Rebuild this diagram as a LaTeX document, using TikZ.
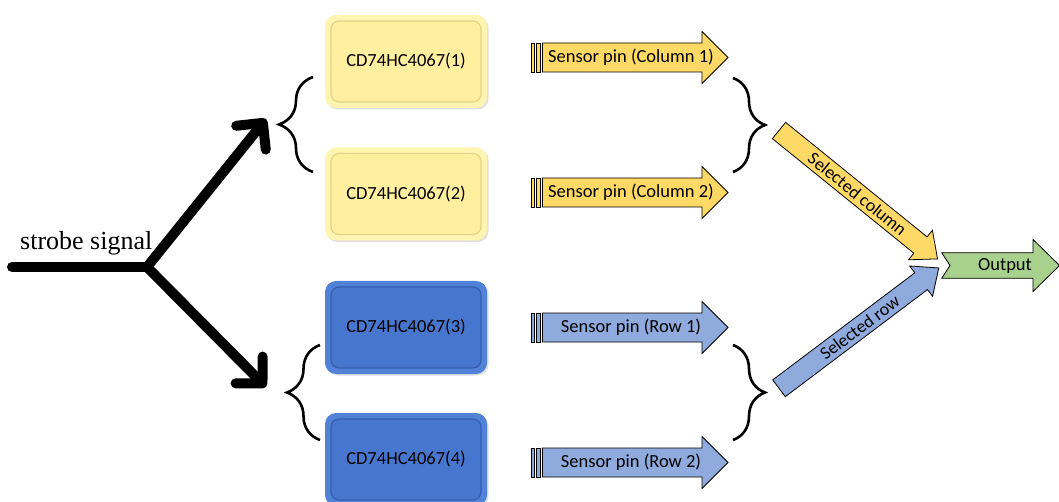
\documentclass[tikz,border=0pt]{standalone}
\usepackage{fontspec}
\setmainfont{Carlito}
\newfontfamily\timesfont{Liberation Serif}
\usetikzlibrary{arrows.meta,decorations.pathreplacing,shadows}

\definecolor{boxyellow}{HTML}{FFF4B0}
\definecolor{boxyellowin}{HTML}{FFEF9E}
\definecolor{boxyellowedge}{HTML}{E2D389}
\definecolor{boxblue}{HTML}{5282D8}
\definecolor{boxbluein}{HTML}{4776CF}
\definecolor{boxblueedge}{HTML}{345DAE}
\definecolor{arrowyellow}{HTML}{FFD966}
\definecolor{arrowblue}{HTML}{8FAADC}
\definecolor{arrowgreen}{HTML}{A9D18E}

\tikzset{
  label18/.style={font=\fontsize{18.5}{22}\selectfont, inner sep=0pt},
  chip/.style={label18, minimum width=162pt, minimum height=93pt, rounded corners=11pt,
    drop shadow={shadow xshift=1.5pt, shadow yshift=-1.5pt, opacity=0.25}},
  yellowchip/.style={chip, fill=boxyellow,
    path picture={\draw[boxyellowedge, line width=1.2pt, fill=boxyellowin, rounded corners=8pt]
      ([shift={(6pt,6pt)}]path picture bounding box.south west) rectangle
      ([shift={(-6pt,-6pt)}]path picture bounding box.north east);}},
  bluechip/.style={chip, fill=boxblue,
    path picture={\draw[boxblueedge, line width=1.2pt, fill=boxbluein, rounded corners=8pt]
      ([shift={(6pt,6pt)}]path picture bounding box.south west) rectangle
      ([shift={(-6pt,-6pt)}]path picture bounding box.north east);}},
  blockarrow/.style={draw=black, line width=0.8pt, line join=miter},
  strobeline/.style={line width=10pt, line cap=round, line join=round},
  bracket/.style={decorate, decoration={brace, amplitude=#1}, line width=2.6pt},
}

% striped block arrow carrying a sensor pin label
\newcommand\pinarrow[4]{%
  \begin{scope}[shift={(0,-#2)}]
    \filldraw[blockarrow, fill=#3] (531,-14.5) rectangle (534.5,14.5);
    \filldraw[blockarrow, fill=#3] (536.5,-14.5) rectangle (540.5,14.5);
    \filldraw[blockarrow, fill=#3] (542.5,-14.5) -- (702,-14.5) -- (702,-26) -- (728,0)
      -- (702,26) -- (702,14.5) -- (542.5,14.5) -- cycle;
    \node[label18] (#1) at (631,0) {#4};
  \end{scope}}

% slanted block arrow: name, tail x, tail y, angle, length, fill, label
\newcommand\slantarrow[7]{%
  \begin{scope}[shift={(#2,-#3)}, rotate=#4]
    \filldraw[blockarrow, fill=#6] (0,-10.5) -- (#5-22,-10.5) -- (#5-22,-19) -- (#5,0)
      -- (#5-22,19) -- (#5-22,10.5) -- (0,10.5) -- cycle;
    \node[font=\fontsize{18}{21}\selectfont, inner sep=0pt, rotate=#4] (#1) at (101,0) {#7};
  \end{scope}}

\begin{document}
\begin{tikzpicture}[x=1pt, y=1pt]
  \fill[white] (0,0) rectangle (1059,-502);
  \useasboundingbox (0,0) rectangle (1059,-502);

  % multiplexer chips
  \node[yellowchip] (mux1) at (406,-61.5) {CD74HC4067(1)};
  \node[yellowchip] (mux2) at (406,-194) {CD74HC4067(2)};
  \node[bluechip]   (mux3) at (406,-327.5) {CD74HC4067(3)};
  \node[bluechip]   (mux4) at (406,-459.5) {CD74HC4067(4)};

  % strobe signal splitting to both chip groups
  \node[font=\timesfont\fontsize{26}{30}\selectfont, anchor=base west, inner sep=0pt]
    (strobe) at (20,-250) {strobe signal};
  \coordinate (src) at (12,-267);
  \coordinate (fork) at (147,-267);
  \coordinate (upend) at (266,-119);
  \coordinate (downend) at (266,-387);
  \draw[strobeline] (src) -- (fork);
  \draw[strobeline, -{Straight Barb[length=19pt,width=38pt,round]}] (fork) -- (upend);
  \draw[strobeline, -{Straight Barb[length=19pt,width=38pt,round]}] (fork) -- (downend);

  % group braces in front of the chips
  \draw[bracket=34pt] (313,-172) -- (313,-77);
  \draw[bracket=33pt] (320,-440) -- (320,-345);

  % sensor pin outputs
  \pinarrow{pin1}{57.5}{arrowyellow}{Sensor pin (Column 1)}
  \pinarrow{pin2}{192.5}{arrowyellow}{Sensor pin (Column 2)}
  \pinarrow{pin3}{327.5}{arrowblue}{Sensor pin (Row 1)}
  \pinarrow{pin4}{462.5}{arrowblue}{Sensor pin (Row 2)}

  % braces gathering the pins
  \draw[bracket=32pt] (733,-78) -- (733,-172);
  \draw[bracket=32pt] (733,-345) -- (733,-440);

  % selected column / row feeding the output
  \slantarrow{selcol}{779}{130.5}{-39}{204}{arrowyellow}{Selected column}
  \slantarrow{selrow}{779}{388.3}{37}{200}{arrowblue}{Selected row}

  % output chevron arrow
  \filldraw[blockarrow, fill=arrowgreen] (941.7,-252.7) -- (1033,-252.7) -- (1033,-239.5)
    -- (1059.5,-265.5) -- (1033,-291.5) -- (1033,-278.3) -- (941.7,-278.3) -- (950,-265.5) -- cycle;
  \node[label18] (out) at (1005,-266) {Output};
\end{tikzpicture}
\end{document}
